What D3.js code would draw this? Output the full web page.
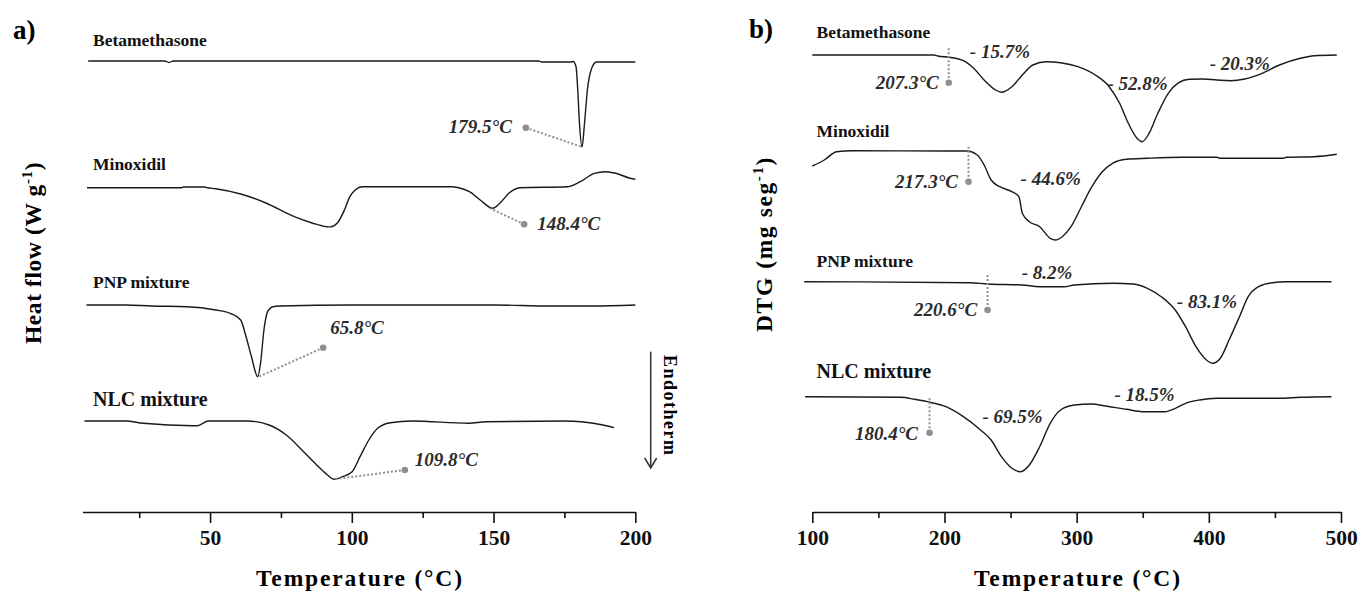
<!DOCTYPE html>
<html><head><meta charset="utf-8">
<script src="https://cdn.jsdelivr.net/npm/d3@7"></script>
<style>body{margin:0;background:#fff}svg{display:block}</style>
</head><body><svg id="c" width="1361" height="592"></svg>
<script>
// ---------------- DATA ----------------
const seriesNames = ["Betamethasone", "Minoxidil", "PNP mixture", "NLC mixture"];
// stacking offsets (a.u.) for the vertically shifted curves
const dscOffsets = [451, 324.3, 207, 91];
const dtgOffsets = [457, 361, 230.3, 115.3];

// a) DSC heat flow, [temperature °C, relative heat flow a.u.]
const dscBeta = [[7,0],[34,0],[35.5,-1.5],[37,0],[166,0],[167,-1],[177,-1],[178.1,-0.5],[179.1,-5.7],[179.7,-29],[180.3,-62],[181.2,-86],[182.1,-62],[183.1,-29],[184.4,-9],[186.3,-1],[200,-1]];
const dscMinox = [[6.6,0],[40,0],[40.5,0.7],[48,0.7],[49,0],[52,-1],[60.8,-6.3],[69.7,-15.3],[79.7,-29],[86,-35.3],[91.1,-39],[92.4,-39.2],[94.9,-35.3],[97.4,-22.3],[99.3,-9],[101.2,-2.3],[103.7,1],[135.2,1],[137.7,0],[141.5,-4],[145.3,-12.3],[149.7,-20.6],[152.2,-15.6],[155.4,-5.6],[159.2,0],[176.2,1],[180.6,6],[185.6,14.4],[189.4,16],[193.2,14.4],[198.2,9.4],[200,8.5]];
const dscPNP = [[6.4,0],[20,0],[29.3,-1],[41.9,-1.7],[52,-5],[57.1,-8.3],[60.8,-15],[62.7,-31.7],[64.6,-51.7],[66.8,-71.7],[67.8,-58.3],[69,-25],[70.3,-6.7],[72.2,-1.7],[74.7,-1],[100,0],[150,0],[170,-1],[185,-1],[200,0]];
const dscNLC = [[5.7,0],[20.3,0],[26.4,-2.3],[44,-4.7],[45.5,-4.7],[49.4,0],[63.1,0],[70.8,-4],[76.9,-14],[83,-30.7],[87.6,-44],[91.4,-54],[93.7,-58.3],[96.7,-55.7],[100.1,-50.7],[102.9,-35.7],[106,-19],[109.1,-7.3],[113.6,-1.7],[121.3,0],[141.2,-2.3],[147.3,-0.7],[174.9,0],[188.6,-4],[192.5,-6.7]];

// b) DTG, [temperature °C, relative DTG a.u.]
const dtgBeta = [[100,0],[191.9,0],[195,-1],[203.7,-2.3],[214.3,-5.7],[222.1,-13.3],[230,-25],[237.9,-34.3],[243.1,-37.3],[251,-31.7],[258.9,-20],[266.8,-10],[277.3,-6.7],[287.8,-7.7],[301,-11.7],[314.1,-20],[324.6,-31.7],[332.5,-48.3],[339.1,-68.3],[345.7,-83.3],[349.6,-86.7],[354.8,-78.3],[361.4,-58.3],[369.3,-38.3],[377.2,-27.7],[385.1,-24.3],[395.6,-24],[406.1,-25],[416.6,-25.7],[427.1,-24],[440.3,-18.3],[453.4,-10],[469.2,-3.3],[479.7,-0.7],[496.8,0]];
const dtgMinox = [[100,-15],[109.1,-9],[118.3,-0.7],[130.1,0.3],[201.1,0],[216.9,0],[224.8,-4],[230,-14],[235.3,-29],[241.9,-35.7],[251,-40.7],[256.3,-45.7],[258.9,-62.3],[264.2,-70.7],[272,-75.7],[280,-87.3],[283.9,-89],[289.1,-85.7],[295.7,-75.7],[303.6,-55.7],[311.5,-35.7],[319.4,-20.7],[327.2,-12.3],[337.7,-8.3],[353.5,-7.3],[379.8,-6.3],[406.1,-6.3],[408.7,-7.3],[456,-7.3],[458.6,-6.3],[479.7,-5.7],[496.8,-3.3]];
const dtgPNP = [[93.9,0],[219.5,-1],[232.6,-2.3],[258.9,-3.3],[272,-5],[290.5,-5],[298.3,-3.3],[327.2,-1.6],[343,-2.3],[353.5,-6.6],[364,-15],[374.6,-28.3],[382.4,-45],[390.3,-65],[398.2,-78.3],[402.9,-81.6],[408.7,-76.6],[415.3,-58.3],[423.2,-35],[429.8,-15],[437.6,-5],[448.1,-1],[458.6,0],[492.8,0]];
const dtgNLC = [[94.6,0],[166.9,-0.6],[177.4,-2.6],[190.6,-6],[201.1,-10],[214.3,-20],[227.3,-33.3],[235.3,-43.3],[243.1,-60],[251,-71.6],[257.6,-75],[264.2,-68.3],[272,-50],[280,-26.6],[287.8,-13.3],[298.3,-8.3],[311.5,-7.3],[322,-9.3],[337.7,-12.6],[350.9,-15],[366.7,-15],[374.6,-11.6],[382.4,-6.6],[392.9,-3.3],[406.1,-1.6],[453.4,-1.6],[469.2,-0.6],[492.8,0]];

// tick values
const dscTicks = [50, 100, 150, 200];
const dscMinorTicks = [25, 75, 125, 175];
const dtgTicks = [100, 200, 300, 400, 500];
const dtgMinorTicks = [150, 250, 350, 450];

// a) peak annotations: label, dot [T, rel], peak [T, rel]
const dscPeakLabels = ["179.5°C", "148.4°C", "65.8°C", "109.8°C"];
const dscPeakDots = [[161.4,-66.7],[160.8,-36.6],[89.9,-42.7],[118.7,-49]];
const dscPeakTargets = [[181.2,-86],[148.5,-20.3],[67.2,-71.7],[93.8,-58.3]];

// b) onset annotations: label, x [T], line top rel, dot rel
const dtgOnsetLabels = ["207.3°C", "217.3°C", "220.6°C", "180.4°C"];
const dtgOnsetT = [203.2, 218.2, 232.6, 188.7];
const dtgOnsetTop = [6.7, 4.3, 6.7, -1.6];
const dtgOnsetDot = [-27.7, -30.7, -28.3, -36];

// b) mass loss labels: [series index, T, rel, text]
const dtgLossSeries = [0, 0, 0, 1, 2, 2, 3, 3];
const dtgLossT = [219.2, 323.3, 400.7, 257.6, 258.4, 375.8, 228.7, 328.6];
const dtgLossRel = [-3, -34.5, -14.5, -33.5, 2.7, -26.3, -26.3, -4.3];
const dtgLossText = ["- 15.7%", "- 52.8%", "- 20.3%", "- 44.6%", "- 8.2%", "- 83.1%", "- 69.5%", "- 18.5%"];

// ---------------- DRAW ----------------
const FONT = "'Liberation Serif','Times New Roman',serif";
const svg = d3.select("#c");
const xA = d3.scaleLinear().domain([5, 200]).range([82.5, 635.3]);
const xB = d3.scaleLinear().domain([100, 500]).range([812.3, 1341]);
const y = d3.scaleLinear().domain([0, 500]).range([512, 12]);
const GRAY = "#8f8f8f";

function drawPanel(x, seriesList, offsets, ticks, minor, labelX, labelBase, labelSizes) {
  const g = svg.append("g");
  seriesList.forEach((s, i) => {
    const line = d3.line().x(d => x(d[0])).y(d => y(d[1] + offsets[i])).curve(d3.curveMonotoneX);
    g.append("path").attr("d", line(s)).attr("fill", "none")
      .attr("stroke", "#1a1a1a").attr("stroke-width", 1.4);
    g.append("text").attr("x", labelX).attr("y", labelBase[i])
      .attr("font-family", FONT).attr("font-weight", "bold").attr("font-size", labelSizes[i])
      .attr("fill", "#111").text(seriesNames[i]);
  });
  const ax = g.append("g").attr("transform", `translate(0,${y(0)})`)
    .call(d3.axisBottom(x).tickValues(ticks).tickSize(11).tickSizeOuter(0).tickPadding(7).tickFormat(d3.format("d")));
  ax.select(".domain").attr("stroke", "#111").attr("stroke-width", 1.6);
  ax.selectAll(".tick line").attr("stroke", "#111").attr("stroke-width", 1.6);
  ax.selectAll(".tick text").attr("font-family", FONT).attr("font-weight", "bold")
    .attr("font-size", 21.5).attr("fill", "#111");
  const mx = g.append("g").attr("transform", `translate(0,${y(0)})`)
    .call(d3.axisBottom(x).tickValues(minor).tickSize(6).tickSizeOuter(0).tickFormat(""));
  mx.select(".domain").remove();
  mx.selectAll(".tick line").attr("stroke", "#111").attr("stroke-width", 1.6);
  return g;
}

drawPanel(xA, [dscBeta, dscMinox, dscPNP, dscNLC], dscOffsets, dscTicks, dscMinorTicks,
  93, [46, 170, 288, 406], [17.5, 17.5, 17.5, 20]);
drawPanel(xB, [dtgBeta, dtgMinox, dtgPNP, dtgNLC], dtgOffsets, dtgTicks, dtgMinorTicks,
  816.5, [38, 137, 267, 378], [17.5, 17.5, 17.5, 20]);

// a) annotations
const annA = svg.append("g");
const aLabelDx = [-14, 13, 7, 10], aLabelDy = [5, 6, -14, -4], aAnchor = ["end", "start", "start", "start"];
dscPeakLabels.forEach((lab, i) => {
  const off = dscOffsets[i];
  const dx = xA(dscPeakDots[i][0]), dy = y(dscPeakDots[i][1] + off);
  annA.append("line").attr("x1", dx).attr("y1", dy)
    .attr("x2", xA(dscPeakTargets[i][0])).attr("y2", y(dscPeakTargets[i][1] + off))
    .attr("stroke", GRAY).attr("stroke-width", 2).attr("stroke-dasharray", "2,2");
  annA.append("circle").attr("cx", dx).attr("cy", dy).attr("r", 3.3).attr("fill", GRAY);
  annA.append("text").attr("x", dx + aLabelDx[i]).attr("y", dy + aLabelDy[i])
    .attr("text-anchor", aAnchor[i]).attr("font-family", FONT).attr("font-style", "italic")
    .attr("font-weight", "bold").attr("font-size", 19).attr("fill", "#2b2b2b").text(lab);
});

// b) annotations
const annB = svg.append("g");
const bLabelDx = [-10, -10.5, -10.5, -11.5], bLabelDy = [6, 6, 6, 7];
dtgOnsetLabels.forEach((lab, i) => {
  const off = dtgOffsets[i];
  const lx = xB(dtgOnsetT[i]);
  const dy = y(dtgOnsetDot[i] + off);
  annB.append("line").attr("x1", lx).attr("x2", lx)
    .attr("y1", y(dtgOnsetTop[i] + off)).attr("y2", dy)
    .attr("stroke", GRAY).attr("stroke-width", 2).attr("stroke-dasharray", "2,2");
  annB.append("circle").attr("cx", lx).attr("cy", dy).attr("r", 3.3).attr("fill", GRAY);
  annB.append("text").attr("x", lx + bLabelDx[i]).attr("y", dy + bLabelDy[i])
    .attr("text-anchor", "end").attr("font-family", FONT).attr("font-style", "italic")
    .attr("font-weight", "bold").attr("font-size", 19).attr("fill", "#2b2b2b").text(lab);
});
dtgLossText.forEach((t, i) => {
  annB.append("text").attr("x", xB(dtgLossT[i])).attr("y", y(dtgLossRel[i] + dtgOffsets[dtgLossSeries[i]]))
    .attr("font-family", FONT).attr("font-style", "italic").attr("font-weight", "bold")
    .attr("font-size", 19).attr("fill", "#2b2b2b").text(t);
});

// panel letters
svg.append("text").attr("x", 13).attr("y", 39).attr("font-family", FONT).attr("font-weight", "bold")
  .attr("font-size", 27).text("a)");
svg.append("text").attr("x", 749).attr("y", 38).attr("font-family", FONT).attr("font-weight", "bold")
  .attr("font-size", 27).text("b)");

// x titles
[[359, "Temperature (°C)"], [1077, "Temperature (°C)"]].forEach(([cx, t]) => {
  svg.append("text").attr("x", cx).attr("y", 586).attr("text-anchor", "middle")
    .attr("font-family", FONT).attr("font-weight", "bold").attr("font-size", 23.5)
    .attr("textLength", 206).attr("lengthAdjust", "spacing").text(t);
});

// y titles
function yTitle(tx, ty, main, spacing) {
  const t = svg.append("text").attr("transform", `translate(${tx},${ty}) rotate(-90)`)
    .attr("text-anchor", "middle").attr("font-family", FONT).attr("font-weight", "bold")
    .attr("font-size", 23.5).attr("letter-spacing", spacing);
  t.append("tspan").text(main);
  t.append("tspan").attr("font-size", 15).attr("dy", -9).text("-1");
  t.append("tspan").attr("dy", 9).text(")");
}
yTitle(41, 253, "Heat flow (W g", 0.6);
yTitle(772, 244, "DTG (mg seg", 1.6);

// Endotherm arrow
const ex = 650.7, ey0 = 351.7, ey1 = 468;
svg.append("line").attr("x1", ex).attr("x2", ex).attr("y1", ey0).attr("y2", ey1)
  .attr("stroke", "#333").attr("stroke-width", 1.5);
svg.append("path").attr("d", `M${ex - 6},${ey1 - 10} L${ex},${ey1} L${ex + 6},${ey1 - 10}`)
  .attr("fill", "none").attr("stroke", "#333").attr("stroke-width", 1.5);
svg.append("text").attr("transform", `translate(664,405) rotate(90)`).attr("text-anchor", "middle")
  .attr("font-family", FONT).attr("font-weight", "bold").attr("font-size", 18)
  .attr("textLength", 100).attr("lengthAdjust", "spacing").text("Endotherm");
</script>
</body></html>
